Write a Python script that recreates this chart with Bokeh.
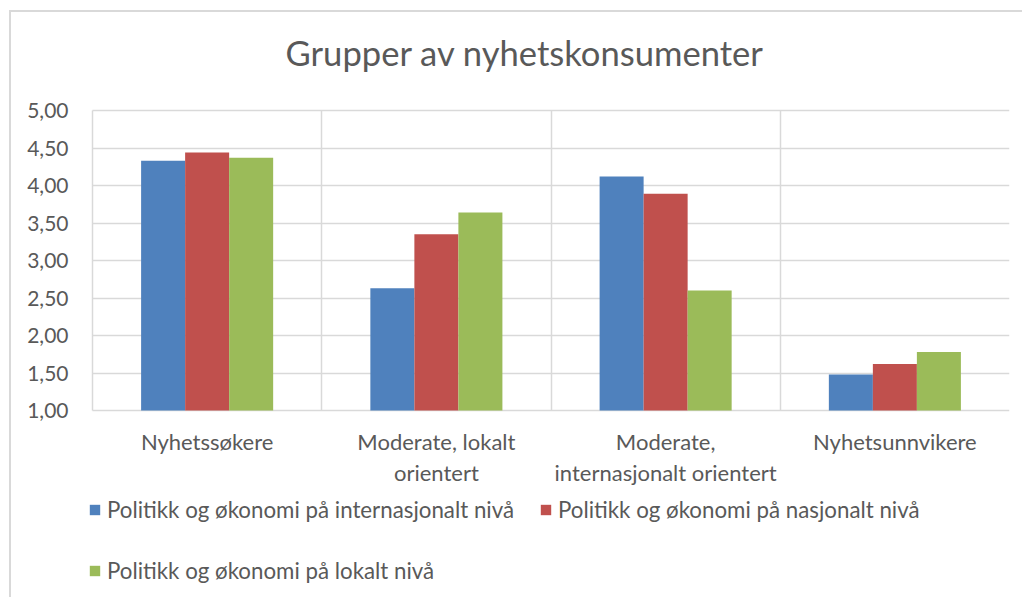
from bokeh.plotting import figure
from bokeh.models import (Range1d, FixedTicker, LinearAxis, Legend, LegendItem,
                          ColumnDataSource, Grid, Label)
from bokeh.transform import dodge
from bokeh.embed import file_html
from bokeh.resources import INLINE

# ---- data ----
group_line1 = ["Nyhetssøkere", "Moderate, lokalt", "Moderate,", "Nyhetsunnvikere"]
group_line2 = ["", "orientert", "internasjonalt orientert", ""]
series_names = ["Politikk og økonomi på internasjonalt nivå",
                "Politikk og økonomi på nasjonalt nivå",
                "Politikk og økonomi på lokalt nivå"]
internasjonalt = [4.33, 2.63, 4.12, 1.48]
nasjonalt = [4.44, 3.35, 3.89, 1.62]
lokalt = [4.37, 3.64, 2.60, 1.78]
y_ticks = [1.0, 1.5, 2.0, 2.5, 3.0, 3.5, 4.0, 4.5, 5.0]
y_tick_labels = ["1,00", "1,50", "2,00", "2,50", "3,00", "3,50", "4,00", "4,50", "5,00"]
title_text = "Grupper av nyhetskonsumenter"

colors = ["#4F81BD", "#C0504D", "#9BBB59"]
FONT = "Lato"
TXT = "#595959"
GRID = "#d9d9d9"

n = len(group_line1)
xs = [i + 0.5 for i in range(n)]
bounds_x = list(range(n + 1))
y_lo, y_hi = y_ticks[0], y_ticks[-1]
src = ColumnDataSource(dict(x=xs, a=internasjonalt, b=nasjonalt, c=lokalt))

# frame covers the whole chart box; value area is 1..5, labels/legends/title around it
p = figure(title=None, width=1013, height=587, x_range=Range1d(-0.0175, n),
           y_range=Range1d(-1.52, 6.3067),
           output_backend="svg", toolbar_location=None, x_axis_location=None,
           y_axis_location=None, min_border_left=77, min_border_right=15,
           min_border_top=0, min_border_bottom=0)
p.outline_line_color = None
p.background_fill_color = "white"
p.border_fill_color = "white"
p.styles = {"margin-left": "9px", "margin-top": "10px",
            "border-left": "2px solid #d9d9d9", "border-top": "2px solid #d9d9d9"}

# chart title
p.add_layout(Label(x=0.842, y=5.77, text=title_text, text_align="left",
                   text_baseline="alphabetic", text_font=FONT, text_font_size="34.6px",
                   text_color=TXT))

# grids limited to the value area
p.xgrid.visible = False
p.ygrid.visible = False
has_cross = "cross_bounds" in Grid.properties()
if has_cross:
    gx = Grid(dimension=0, ticker=FixedTicker(ticks=bounds_x), cross_bounds=(y_lo, y_hi),
              grid_line_color=GRID, grid_line_width=1.5)
    gy = Grid(dimension=1, ticker=FixedTicker(ticks=y_ticks), cross_bounds=(0, n),
              grid_line_color=GRID, grid_line_width=1.5)
    p.add_layout(gx)
    p.add_layout(gy)
else:
    p.segment(x0=bounds_x, x1=bounds_x, y0=[y_lo] * len(bounds_x), y1=[y_hi] * len(bounds_x),
              line_color=GRID, line_width=1.5)
    p.segment(x0=[0] * len(y_ticks), x1=[n] * len(y_ticks), y0=y_ticks, y1=y_ticks,
              line_color=GRID, line_width=1.5)

bw = 0.192
renderers = []
for field, off, col in zip(["a", "b", "c"], [-bw, 0, bw], colors):
    r = p.vbar(x=dodge("x", off), top=field, bottom=y_lo, width=bw, source=src,
               fill_color=col, line_color=None)
    renderers.append(r)

# y axis
yax = LinearAxis(ticker=FixedTicker(ticks=y_ticks),
                 major_label_overrides={t: l for t, l in zip(y_ticks, y_tick_labels)})
yax.axis_line_color = None
yax.major_tick_line_color = None
yax.minor_tick_line_color = None
yax.major_tick_out = 0
yax.major_tick_in = 0
yax.major_label_standoff = 20
yax.major_label_text_font = FONT
yax.major_label_text_font_size = "21px"
yax.major_label_text_color = TXT
p.add_layout(yax, "left")

# x axes (two lines of category labels), pinned at the value-axis baseline
def make_xaxis(labels, standoff):
    ax = LinearAxis(ticker=FixedTicker(ticks=xs), fixed_location=y_lo,
                    major_label_overrides={x: l for x, l in zip(xs, labels)})
    ax.axis_line_color = None
    ax.major_tick_line_color = None
    ax.minor_tick_line_color = None
    ax.major_tick_out = 0
    ax.major_tick_in = 0
    ax.major_label_standoff = standoff
    ax.major_label_text_font = FONT
    ax.major_label_text_font_size = "22px"
    ax.major_label_text_color = TXT
    return ax

p.add_layout(make_xaxis(group_line1, 17), "below")
p.add_layout(make_xaxis(group_line2, 48), "below")

# legends, one item each
positions = [(0, 76), (451, 76), (0, 15)]
for name, r, pos in zip(series_names, renderers, positions):
    lg = Legend(items=[LegendItem(label=name, renderers=[r])], location=pos,
                glyph_width=13, glyph_height=13, label_standoff=6,
                padding=0, margin=0, border_line_color=None,
                background_fill_alpha=0, label_text_font=FONT,
                label_text_font_size="22.3px", label_text_color=TXT)
    p.add_layout(lg, "center")

open("out.html", "w").write(file_html(p, INLINE))
